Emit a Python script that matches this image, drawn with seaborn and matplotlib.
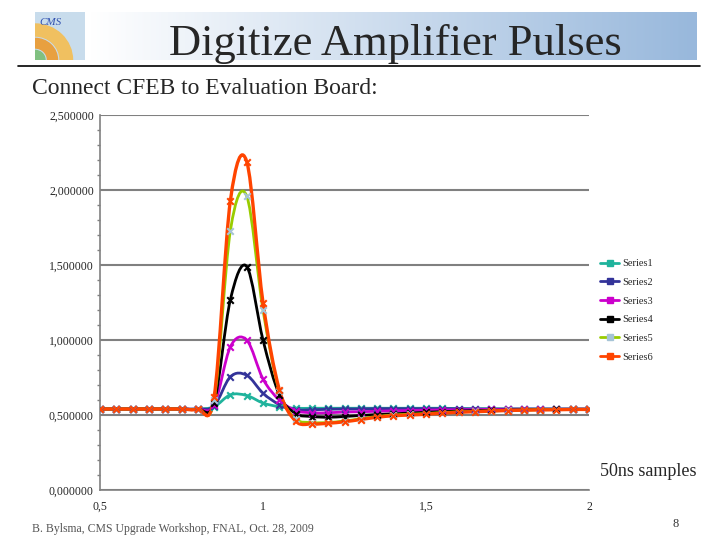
import numpy as np
import pandas as pd
import matplotlib
matplotlib.use("Agg")
import matplotlib.pyplot as plt
from matplotlib.path import Path
from matplotlib.patches import PathPatch
from matplotlib.lines import Line2D
from matplotlib.ticker import MultipleLocator, FuncFormatter
import seaborn as sns

# 50ns samples, time in microseconds
time_us = [0.50, 0.55, 0.60, 0.65, 0.70, 0.75, 0.80, 0.85, 0.90, 0.95,
           1.00, 1.05, 1.10, 1.15, 1.20, 1.25, 1.30, 1.35, 1.40, 1.45,
           1.50, 1.55, 1.60, 1.65, 1.70, 1.75, 1.80, 1.85, 1.90, 1.95, 2.00]

series1 = [0.54, 0.54, 0.54, 0.54, 0.54, 0.54, 0.54, 0.555, 0.635, 0.63,
           0.58, 0.555, 0.545, 0.545, 0.545, 0.545, 0.545, 0.545, 0.545, 0.545,
           0.545, 0.545, 0.543, 0.542, 0.541, 0.540, 0.540, 0.540, 0.540, 0.540, 0.540]
series2 = [0.54, 0.54, 0.54, 0.54, 0.54, 0.54, 0.54, 0.56, 0.755, 0.765,
           0.645, 0.57, 0.535, 0.535, 0.538, 0.540, 0.540, 0.542, 0.542, 0.542,
           0.542, 0.542, 0.541, 0.540, 0.540, 0.540, 0.540, 0.540, 0.540, 0.540, 0.540]
series3 = [0.54, 0.54, 0.54, 0.54, 0.54, 0.54, 0.54, 0.565, 0.955, 1.0,
           0.74, 0.60, 0.53, 0.515, 0.515, 0.52, 0.522, 0.525, 0.528, 0.530,
           0.532, 0.534, 0.535, 0.536, 0.537, 0.538, 0.538, 0.538, 0.538, 0.538, 0.538]
series4 = [0.54, 0.54, 0.54, 0.54, 0.54, 0.54, 0.54, 0.58, 1.27, 1.49,
           1.00, 0.635, 0.51, 0.49, 0.485, 0.49, 0.497, 0.503, 0.508, 0.513,
           0.518, 0.522, 0.526, 0.529, 0.531, 0.533, 0.535, 0.536, 0.537, 0.537, 0.537]
series5 = [0.54, 0.54, 0.54, 0.54, 0.54, 0.54, 0.54, 0.60, 1.73, 1.96,
           1.20, 0.66, 0.475, 0.45, 0.45, 0.46, 0.475, 0.49, 0.50, 0.505,
           0.51, 0.516, 0.521, 0.524, 0.527, 0.531, 0.533, 0.535, 0.536, 0.537, 0.537]
series6 = [0.54, 0.54, 0.54, 0.54, 0.54, 0.54, 0.54, 0.62, 1.93, 2.19,
           1.25, 0.67, 0.46, 0.44, 0.445, 0.455, 0.47, 0.485, 0.495, 0.50,
           0.505, 0.512, 0.518, 0.522, 0.526, 0.53, 0.532, 0.534, 0.535, 0.537, 0.537]

series_names = ["Series1", "Series2", "Series3", "Series4", "Series5", "Series6"]
line_colors = ["#1fb39c", "#333399", "#cc00cc", "#000000", "#99cc00", "#ff4400"]
marker_colors = ["#1fb39c", "#333399", "#cc00cc", "#000000", "#a6c4d6", "#ff4400"]

data = pd.DataFrame({"time": time_us * 6,
                     "value": series1 + series2 + series3 + series4 + series5 + series6,
                     "series": np.repeat(series_names, len(time_us))})


def smooth_path(x, y):
    # Excel-style smoothed line: cubic Bezier through every sample
    x = np.asarray(x, float)
    y = np.asarray(y, float)
    verts = [(x[0], y[0])]
    codes = [Path.MOVETO]
    n = len(x)
    for i in range(n - 1):
        p0 = max(i - 1, 0)
        p3 = min(i + 2, n - 1)
        c1 = (x[i] + (x[i + 1] - x[p0]) / 6, y[i] + (y[i + 1] - y[p0]) / 6)
        c2 = (x[i + 1] - (x[p3] - x[i]) / 6, y[i + 1] - (y[p3] - y[i]) / 6)
        verts += [c1, c2, (x[i + 1], y[i + 1])]
        codes += [Path.CURVE4] * 3
    return Path(verts, codes)


sns.set_style("white")
plt.rcParams['font.family'] = ['Liberation Serif', 'DejaVu Serif']

fig = plt.figure(figsize=(7.2, 5.4), dpi=100)

# title band with gradient
band = fig.add_axes([90 / 720, 1 - 60 / 540, 607 / 720, 48 / 540])
grad = np.linspace(0, 1, 256)[None, :, None]
start = np.array([1.0, 1.0, 1.0])
end = np.array([0x98, 0xb8, 0xdc]) / 255
band.imshow(start + grad * (end - start), aspect="auto", extent=[0, 1, 0, 1])
band.axis("off")

# small logo box
logo = fig.add_axes([35 / 720, 1 - 60 / 540, 50 / 720, 48 / 540])
logo.set_xlim(0, 1)
logo.set_ylim(0, 1)
logo.add_patch(plt.Rectangle((0, 0), 1, 1, color="#c8dcec"))
logo.add_patch(matplotlib.patches.Wedge((0, 0), 0.75, 0, 90, width=0.25, color="#f0c060"))
logo.add_patch(matplotlib.patches.Wedge((0, 0), 0.45, 0, 90, width=0.2, color="#e8a040"))
logo.add_patch(matplotlib.patches.Wedge((0, 0), 0.2, 0, 90, color="#80c080"))
logo.text(0.08, 0.78, "CMS", color="#3050b0", fontsize=8, style="italic", va="center")
logo.axis("off")

fig.text(395 / 720, 1 - 44 / 540, "Digitize Amplifier Pulses", fontsize=32,
         ha="center", va="center")
fig.add_artist(Line2D([18 / 720, 700 / 720], [1 - 66 / 540, 1 - 66 / 540],
                      color="black", lw=1.2))
fig.text(32 / 720, 1 - 88 / 540, "Connect CFEB to Evaluation Board:", fontsize=17,
         ha="left", va="center")

ax = fig.add_axes([100 / 720, 50 / 540, 489 / 720, 375 / 540])
for name, lc, mc in zip(series_names, line_colors, marker_colors):
    sub = data[data["series"] == name]
    lw = 2.4 if name == "Series6" else 2.0
    ax.add_patch(PathPatch(smooth_path(sub["time"], sub["value"]), facecolor="none",
                           edgecolor=lc, lw=lw, zorder=3))
    sns.scatterplot(data=sub, x="time", y="value", marker="x", color=mc, s=22,
                    linewidth=1.5, ax=ax, zorder=4, legend=False)

ax.set_xlim(0.5, 2.0)
ax.set_ylim(0, 2.5)
ax.set_xlabel("")
ax.set_ylabel("")
ax.yaxis.set_major_locator(MultipleLocator(0.5))
ax.yaxis.set_minor_locator(MultipleLocator(0.1))
ax.xaxis.set_major_locator(MultipleLocator(0.5))
ax.yaxis.set_major_formatter(FuncFormatter(lambda v, p: f"{v:.6f}".replace(".", ",")))
ax.xaxis.set_major_formatter(FuncFormatter(lambda v, p: f"{v:g}".replace(".", ",")))
ax.grid(axis="y", which="major", color="#808080", lw=1.5)
ax.grid(axis="x", visible=False)
for side in ["top", "right"]:
    ax.spines[side].set_visible(False)
for side in ["left", "bottom"]:
    ax.spines[side].set_color("#808080")
    ax.spines[side].set_linewidth(1.2)
ax.tick_params(axis="both", which="major", length=4, width=1, color="#808080",
               labelsize=8.5, direction="out")
ax.tick_params(axis="y", which="minor", length=2, width=1, color="#808080", left=True)
ax.tick_params(axis="y", pad=0.5)
ax.tick_params(axis="x", pad=4)
ax.set_axisbelow(True)

handles = [Line2D([0], [0], color=lc, lw=2, marker="s", markersize=4,
                  markerfacecolor=mc, markeredgecolor=mc)
           for lc, mc in zip(line_colors, marker_colors)]
fig.legend(handles, series_names, loc="upper left",
           bbox_to_anchor=(596 / 720, 1 - 255 / 540), frameon=False, fontsize=7.5,
           handlelength=1.8, handletextpad=0.3, labelspacing=0.9, borderaxespad=0)

fig.text(600 / 720, 1 - 471 / 540, "50ns samples", fontsize=13, ha="left", va="center")
fig.text(32 / 720, 1 - 529 / 540, "B. Bylsma, CMS Upgrade Workshop, FNAL, Oct. 28, 2009",
         fontsize=8.5, color="#555555", ha="left", va="center")
fig.text(676 / 720, 1 - 524 / 540, "8", fontsize=9, color="#333333", ha="center", va="center")

fig.savefig("out.png", dpi=100)
